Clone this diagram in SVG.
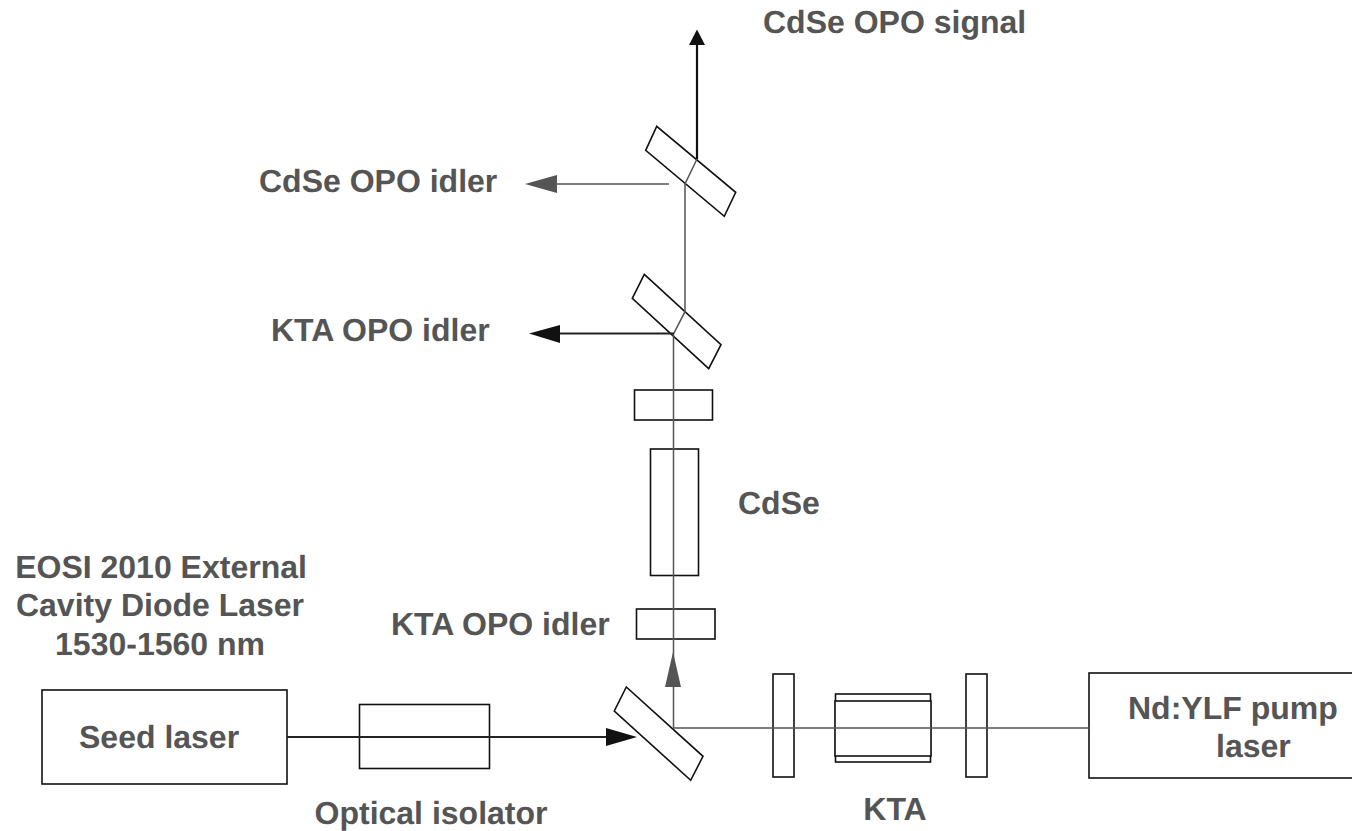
<svg xmlns="http://www.w3.org/2000/svg" width="1352" height="831" viewBox="0 0 1352 831">
<style>
.o{fill:#fff;stroke:#111;stroke-width:1.6}
.b{fill:none;stroke:#555;stroke-width:1.5}
.k{fill:none;stroke:#222;stroke-width:1.8}
.t{font-family:"Liberation Sans",Arial,sans-serif;font-weight:700;font-size:32px;fill:#555;text-rendering:geometricPrecision}
.m{text-anchor:middle}
</style>
<rect width="1352" height="831" fill="#fff"/>
<g id="nodes">
<g id="seed-laser"><rect class="o" x="42" y="690" width="245" height="94"/><text class="t" x="79" y="748">Seed laser</text></g>
<g id="isolator"><rect class="o" x="359.500" y="704.500" width="130" height="64"/></g>
<g id="mirror-bottom"><polygon class="o" points="626.3,687 614.3,711 690.7,780.3 703,756.3"/></g>
<g id="plate-1"><rect class="o" x="773" y="674" width="21" height="103"/></g>
<g id="kta"><rect class="o" x="835.5" y="694" width="95" height="68"/><rect class="o" x="835" y="701" width="96" height="55"/></g>
<g id="plate-2"><rect class="o" x="966" y="674" width="21" height="103"/></g>
<g id="pump"><rect class="o" x="1089" y="673" width="264" height="105"/></g>
<g id="plate-3"><rect class="o" x="636.500" y="609" width="78.500" height="30"/></g>
<g id="cdse"><rect class="o" x="650.500" y="449" width="48" height="126.500"/></g>
<g id="plate-4"><rect class="o" x="634.500" y="390" width="78" height="30"/></g>
<g id="mirror-2"><polygon class="o" points="644.3,274.3 632.3,298.300 708.700,368.700 721,344.700"/></g>
<g id="mirror-1"><polygon class="o" points="656.700,126.300 645.700,150.300 724.300,216.300 735.700,192.300"/></g>
</g>
<g id="connectors">
<path class="k" d="M287 737H608"/><polygon fill="#111" points="637,737 606,728 606,746"/>
<path class="b" d="M1089 728H673.500V660"/><polygon fill="#555" points="673,652 665,687 681,687"/>
<path class="b" d="M673.500 660V334L685 311.700V184L697 159"/>
<path fill="none" stroke="#111" stroke-width="2.200" d="M697 159V40"/><polygon fill="#111" points="697,29.500 689,45 705,45"/>
<path class="k" d="M674 333.500H555"/><polygon fill="#111" points="529,333.500 560,325 560,343"/>
<path class="b" d="M669 184H552"/><polygon fill="#555" points="525,184 557,175 557,193"/>
</g>
<g id="labels">
<text class="t" x="763" y="33">CdSe OPO signal</text>
<text class="t" x="259" y="192">CdSe OPO idler</text>
<text class="t" x="271" y="341">KTA OPO idler</text>
<text class="t" x="738" y="514">CdSe</text>
<text class="t" x="391" y="635">KTA OPO idler</text>
<text class="t m" x="161" y="578">EOSI 2010 External</text>
<text class="t m" x="160" y="616">Cavity Diode Laser</text>
<text class="t m" x="160" y="655">1530-1560 nm</text>
<text class="t m" x="431" y="824">Optical isolator</text>
<text class="t m" x="895" y="820">KTA</text>
<text class="t" x="1128" y="719">Nd:YLF pump</text>
<text class="t" x="1216" y="757">laser</text>
</g>
</svg>
